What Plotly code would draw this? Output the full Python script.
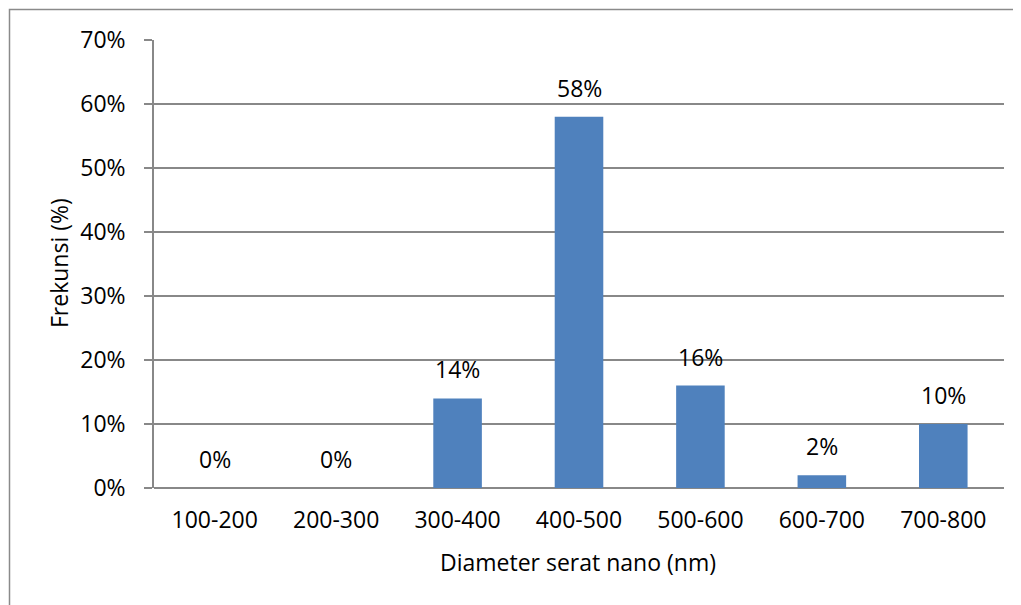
import plotly.graph_objects as go

categories = ["100-200", "200-300", "300-400", "400-500", "500-600", "600-700", "700-800"]
values = [0, 0, 14, 58, 16, 2, 10]
labels = ["0%", "0%", "14%", "58%", "16%", "2%", "10%"]
tick_vals = [0, 10, 20, 30, 40, 50, 60, 70]
tick_text = ["0%", "10%", "20%", "30%", "40%", "50%", "60%", "70%"]
x_title = "Diameter serat nano (nm)"
y_title = "Frekunsi (%)"

FONT = "Open Sans"
FS = 23
OFF = 8  # page body margin
W, H = 1021 - OFF, 605 - OFF
L, T = 154 - OFF, 40 - OFF
R = W - (1004 - OFF)
B = H - (488 - OFF)
pw, ph = W - L - R, H - T - B


def px_x(p):
    return (p - OFF - L) / pw


def px_y(p):
    return (H - B - (p - OFF)) / ph


fig = go.Figure()
fig.add_trace(go.Bar(x=categories, y=values, marker=dict(color="#4F81BD", line=dict(width=0)),
                     width=0.4, hoverinfo="x+y"))

for c, v, t in zip(categories, values, labels):
    fig.add_annotation(x=c, y=v, text=t, showarrow=False, yanchor="bottom", yshift=11,
                       font=dict(family=FONT, size=FS, color="#000"))

fig.add_annotation(xref="paper", yref="paper", x=px_x(578), y=px_y(562), text=x_title,
                   showarrow=False, xanchor="center", yanchor="middle",
                   font=dict(family=FONT, size=FS, color="#000"))
fig.add_annotation(xref="paper", yref="paper", x=px_x(59), y=px_y(263), text=y_title,
                   showarrow=False, xanchor="center", yanchor="middle", textangle=-90,
                   font=dict(family=FONT, size=FS, color="#000"))

fig.add_shape(type="rect", xref="paper", yref="paper",
              x0=px_x(9.5), x1=px_x(1019.5), y0=px_y(660), y1=px_y(9.5),
              line=dict(color="#8a8a8a", width=1.5), fillcolor="rgba(0,0,0,0)", layer="below")

fig.update_layout(
    width=W, height=H,
    margin=dict(l=L, r=R, t=T, b=B, pad=0),
    paper_bgcolor="white", plot_bgcolor="white",
    showlegend=False,
    font=dict(family=FONT, size=FS, color="#000"),
    xaxis=dict(showgrid=False, showline=False, ticks="", tickfont=dict(size=FS),
               ticklabelstandoff=16),
    yaxis=dict(range=[0, 70], tickvals=tick_vals, ticktext=tick_text,
               showgrid=True, gridcolor="#888888", gridwidth=1.5,
               showline=True, linecolor="#888888", linewidth=1.5,
               ticks="outside", ticklen=8, tickcolor="#888888", tickwidth=1.5,
               zeroline=True, zerolinecolor="#888888", zerolinewidth=1.5,
               tickfont=dict(size=FS), ticklabelstandoff=14),
)
fig.write_html("out.html")
